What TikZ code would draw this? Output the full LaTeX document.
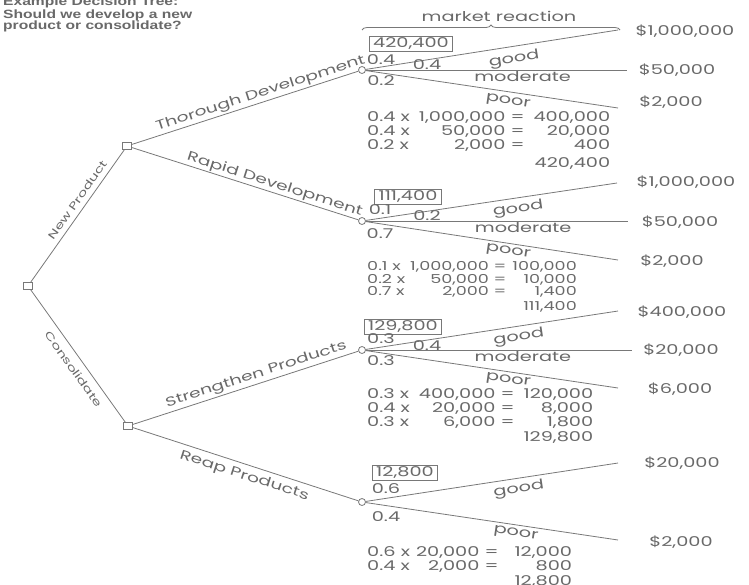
\documentclass[tikz,border=0pt]{standalone}
\usepackage{fontspec}
\usetikzlibrary{decorations.pathreplacing}
\newfontfamily\gothic[FakeStretch=1.43]{Poppins}
\newfontfamily\titlefont[FakeStretch=1.3]{Liberation Sans}
\definecolor{linegray}{RGB}{120,120,120}
\definecolor{txtgray}{RGB}{105,105,105}
\tikzset{
  ln/.style={draw=linegray, line width=0.8pt},
  dec/.style={rectangle, draw=linegray, fill=white, line width=0.8pt, minimum width=9pt, minimum height=7pt, inner sep=0pt},
  chance/.style={circle, draw=linegray, fill=white, line width=0.8pt, minimum size=7pt, inner sep=0pt},
  lbl/.style={text=txtgray, font=\gothic\fontsize{13.5}{13.5}\selectfont, inner sep=0pt},
  brlbl/.style={text=txtgray, font=\gothic\fontsize{13}{13}\selectfont, inner sep=0pt},
  toplbl/.style={text=txtgray, font=\gothic\fontsize{10.4}{10.4}\selectfont, inner sep=0pt},
  comp/.style={text=txtgray, font=\gothic\fontsize{13.5}{13.5}\selectfont, inner sep=0pt},
  compsmall/.style={text=txtgray, font=\gothic\fontsize{12.3}{11.6}\selectfont, inner sep=0pt},
  evbox/.style={lbl, draw=linegray, line width=0.8pt, inner xsep=4pt, inner ysep=1.5pt},
  titletxt/.style={text=txtgray, font=\titlefont\bfseries\fontsize{12}{11}\selectfont, inner sep=0pt, anchor=base west},
}
\begin{document}
\begin{tikzpicture}[x=1pt, y=-1pt]
\useasboundingbox (0,0) rectangle (749,584);

% title
\node[titletxt] (t0) at (3,5.5) {Example Decision Tree:};
\node[titletxt] (t1) at (3,18.5) {Should we develop a new};
\node[titletxt] (t2) at (3,29.5) {product or consolidate?};

% brace
\coordinate (bl) at (362,30);
\coordinate (br) at (620,30);
\draw[ln, decorate, decoration={brace, amplitude=5pt}] (bl) -- (br)
  node[lbl, midway, above=8pt, xshift=8pt] (mr) {market reaction};

% decision and chance nodes
\node[dec] (root) at (28,286) {};
\node[dec] (np) at (127,146) {};
\node[dec] (con) at (128,426) {};
\node[chance] (ct) at (362,70) {};
\node[chance] (cr) at (362,221) {};
\node[chance] (cs) at (362,350) {};
\node[chance] (cp) at (362,502) {};

% tree branches
\draw[ln] (root) -- node[toplbl, sloped, pos=0.58, above=5pt] (lnp) {New Product} (np);
\draw[ln] (root) -- node[toplbl, sloped, pos=0.55, below=7pt] (lcon) {Consolidate} (con);
\draw[ln] (np) -- node[brlbl, sloped, pos=0.58, above=1.5pt] (lt) {Thorough Development} (ct);
\draw[ln] (np) -- node[brlbl, sloped, pos=0.62, above=1pt] (lr) {Rapid Development} (cr);
\draw[ln] (con) -- node[brlbl, sloped, pos=0.56, above=2pt] (ls) {Strengthen Products} (cs);
\draw[ln] (con) -- node[brlbl, sloped, pos=0.51, below=5pt] (lp) {Reap Products} (cp);

% ---------- Thorough Development ----------
\coordinate (tg) at (618,30);
\coordinate (tm) at (627,70);
\coordinate (tp) at (618,108);
\draw[ln] (ct) -- node[lbl, sloped, pos=0.58, below=6pt] (tgl) {good} (tg);
\draw[ln] (ct) -- node[lbl, pos=0.6, below=1.5pt] (tml) {moderate} (tm);
\draw[ln] (ct) -- node[lbl, sloped, pos=0.57, below=4.5pt] (tpl) {poor} (tp);
\node[lbl] (tv1) at (685,31) {\$1,000,000};
\node[lbl] (tv2) at (677,70) {\$50,000};
\node[lbl] (tv3) at (671,102) {\$2,000};
\node[evbox] (tb) at (411,43.5) {420,400};
\node[lbl] (tp1) at (381,60) {0.4};
\node[lbl] (tp2) at (427,65) {0.4};
\node[lbl] (tp3) at (381,81) {0.2};
\node[comp, anchor=north west] (tc) at (367,111)
  {\begin{tabular}{@{}l@{\hspace{9pt}}r@{\hspace{9pt}}r@{}}
   0.4 x & 1,000,000 = & 400,000\\
   0.4 x & 50,000 = & 20,000\\
   0.2 x & 2,000 = & 400
   \end{tabular}};
\node[comp, anchor=north east] (tt) at ([yshift=-4pt]tc.south east) {420,400};

% ---------- Rapid Development ----------
\coordinate (rg) at (617,183);
\coordinate (rm) at (628,221);
\coordinate (rp) at (618,260);
\draw[ln] (cr) -- node[lbl, sloped, pos=0.6, below=4pt] (rgl) {good} (rg);
\draw[ln] (cr) -- node[lbl, pos=0.6, below=1.5pt] (rml) {moderate} (rm);
\draw[ln] (cr) -- node[lbl, sloped, pos=0.57, below=3pt] (rpl) {poor} (rp);
\node[lbl] (rv1) at (686,182) {\$1,000,000};
\node[lbl] (rv2) at (680,222) {\$50,000};
\node[lbl] (rv3) at (672,261) {\$2,000};
\node[evbox] (rb) at (408,197) {111,400};
\node[lbl] (rp1) at (380,210) {0.1};
\node[lbl] (rp2) at (427,216) {0.2};
\node[lbl] (rp3) at (380,234) {0.7};
\node[compsmall, anchor=north west] (rc) at (367,261.5)
  {\begin{tabular}{@{}l@{\hspace{5pt}}r@{\hspace{6pt}}r@{}}
   0.1 x & 1,000,000 = & 100,000\\
   0.2 x & 50,000 = & 10,000\\
   0.7 x & 2,000 = & 1,400
   \end{tabular}};
\node[compsmall, anchor=north east] (rt) at ([yshift=-1.5pt]rc.south east) {111,400};

% ---------- Strengthen Products ----------
\coordinate (sg) at (618,311);
\coordinate (sm) at (632,350);
\coordinate (sp) at (618,388);
\draw[ln] (cs) -- node[lbl, sloped, pos=0.6, below=4pt] (sgl) {good} (sg);
\draw[ln] (cs) -- node[lbl, pos=0.59, below=1.5pt] (sml) {moderate} (sm);
\draw[ln] (cs) -- node[lbl, sloped, pos=0.57, below=3pt] (spl) {poor} (sp);
\node[lbl] (sv1) at (682,312) {\$400,000};
\node[lbl] (sv2) at (681,350) {\$20,000};
\node[lbl] (sv3) at (680,389) {\$6,000};
\node[evbox] (sb) at (403,326.5) {129,800};
\node[lbl] (sp1) at (381,339) {0.3};
\node[lbl] (sp2) at (427,346) {0.4};
\node[lbl] (sp3) at (381,361) {0.3};
\node[comp, anchor=north west] (sc) at (367,388.5)
  {\begin{tabular}{@{}l@{\hspace{9pt}}r@{\hspace{9pt}}r@{}}
   0.3 x & 400,000 = & 120,000\\
   0.4 x & 20,000 = & 8,000\\
   0.3 x & 6,000 = & 1,800
   \end{tabular}};
\node[comp, anchor=north east] (st) at ([yshift=0pt]sc.south east) {129,800};

% ---------- Reap Products ----------
\coordinate (pg) at (618,463);
\coordinate (pp) at (618,540);
\draw[ln] (cp) -- node[lbl, sloped, pos=0.6, below=4pt] (pgl) {good} (pg);
\draw[ln] (cp) -- node[lbl, sloped, pos=0.6, below=3pt] (ppl) {poor} (pp);
\node[lbl] (pv1) at (682,463) {\$20,000};
\node[lbl] (pv2) at (681,542) {\$2,000};
\node[evbox] (pb) at (405,472.5) {12,800};
\node[lbl] (pp1) at (386,489) {0.6};
\node[lbl] (pp2) at (386,517) {0.4};
\node[comp, anchor=north west] (pc) at (367,546.5)
  {\begin{tabular}{@{}l@{\hspace{6pt}}r@{\hspace{16pt}}r@{}}
   0.6 x & 20,000 = & 12,000\\
   0.4 x & 2,000 = & 800
   \end{tabular}};
\node[comp, anchor=north east] (pt) at ([yshift=0pt]pc.south east) {12,800};
\end{tikzpicture}
\end{document}
